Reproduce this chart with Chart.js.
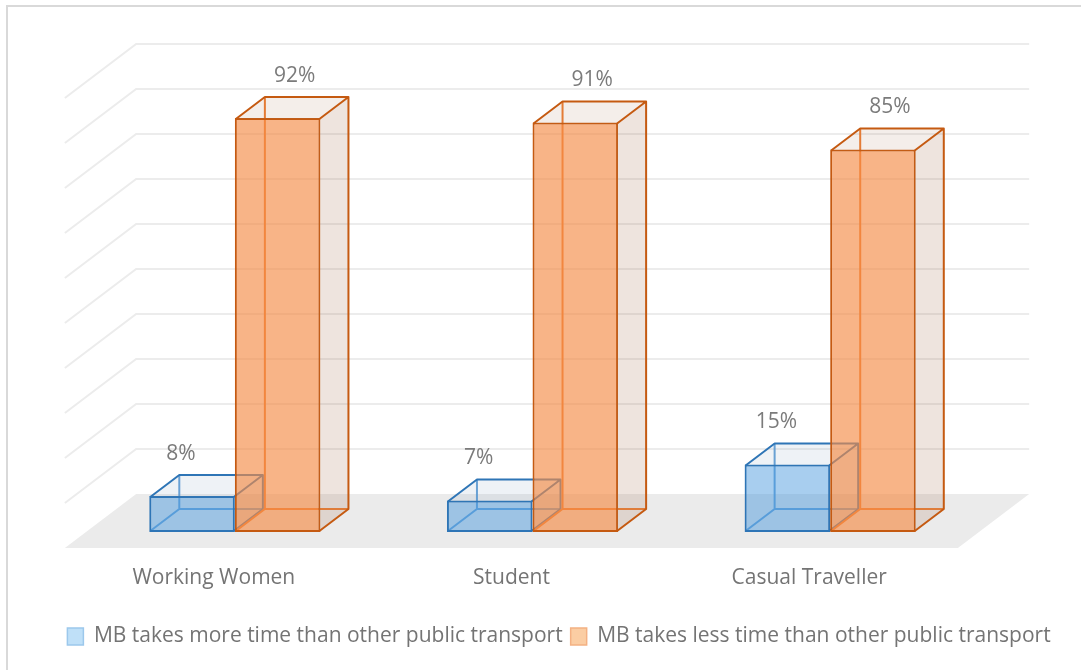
<!DOCTYPE html>
<html>
<head>
<meta charset="utf-8">
<title>MB travel time compared with other public transport</title>
<script src="https://cdn.jsdelivr.net/npm/chart.js@4.4.1/dist/chart.umd.min.js"></script>
<style>
  html, body { margin: 0; padding: 0; background: #fff; overflow: hidden; }
  #wrap { position: relative; width: 1081px; height: 670px; }
  #frame { position: absolute; left: 6px; top: 5px; width: 1200px; height: 800px; border: 2px solid #d9d9d9; }
  #chart { position: absolute; left: 0; top: 0; }
</style>
</head>
<body>
<div id="wrap">
  <div id="frame"></div>
  <canvas id="chart" width="1081" height="670"></canvas>
</div>
<script>
'use strict';

// Survey answers, in percent
const categories = ['Working Women', 'Student', 'Casual Traveller'];
const seriesNames = [
  'MB takes more time than other public transport',
  'MB takes less time than other public transport'
];
const moreTime = [8, 7, 15];
const lessTime = [92, 91, 85];
const valueRange = [0, 100];
const valueStep = 10;

// Look of each series: front face, edges, hidden edges, top and side faces
const look = [
  { face: 'rgba(70,150,220,0.47)', edge: '#2e75b6', hidden: 'rgba(91,155,213,0.9)',
    top: 'rgba(85,125,165,0.1)', side: 'rgba(85,125,165,0.14)',
    legendFill: '#bfe0f8', legendEdge: '#9cc8ec', labelDx: -11 },
  { face: 'rgba(244,140,70,0.65)', edge: '#c55a11', hidden: '#ed7d31',
    top: 'rgba(170,120,90,0.13)', side: 'rgba(170,120,90,0.2)',
    legendFill: '#fbcda3', legendEdge: '#f4b183', labelDx: 17 }
];

// Oblique projection: going k px deeper moves up k and right k*SLANT
const SLANT = 1.32;
const shift = k => ({ x: k * SLANT, y: -k });
const barDepth = shift(22);
const wallDepth = shift(38);
const floorFront = shift(-16);

Chart.defaults.font.family = '"Open Sans", sans-serif';

function corners(bar) {
  const { x, y, base, width } = bar.getProps(['x', 'y', 'base', 'width'], true);
  // centre of the 2px border drawn inside the bar rectangle
  return { l: x - width / 2 + 1, r: x + width / 2 - 1, t: y + 1, b: base - 1 };
}

function drawHidden(ctx, bar, st) {
  const { l, r, t, b } = corners(bar);
  const d = barDepth;
  ctx.save();
  ctx.strokeStyle = st.hidden;
  ctx.lineWidth = 2;
  ctx.beginPath();
  ctx.moveTo(l, b);
  ctx.lineTo(l + d.x, b + d.y);
  ctx.lineTo(r + d.x, b + d.y);
  ctx.moveTo(l + d.x, b + d.y);
  ctx.lineTo(l + d.x, t + d.y);
  ctx.stroke();
  ctx.restore();
}

function drawVisible(ctx, bar, st) {
  const { l, r, t, b } = corners(bar);
  const d = barDepth;
  ctx.save();
  // top face
  ctx.fillStyle = st.top;
  ctx.beginPath();
  ctx.moveTo(l, t);
  ctx.lineTo(l + d.x, t + d.y);
  ctx.lineTo(r + d.x, t + d.y);
  ctx.lineTo(r, t);
  ctx.closePath();
  ctx.fill();
  // right face
  ctx.fillStyle = st.side;
  ctx.beginPath();
  ctx.moveTo(r, t);
  ctx.lineTo(r + d.x, t + d.y);
  ctx.lineTo(r + d.x, b + d.y);
  ctx.lineTo(r, b);
  ctx.closePath();
  ctx.fill();
  // outline
  ctx.strokeStyle = st.edge;
  ctx.lineWidth = 2;
  ctx.lineJoin = 'round';
  ctx.beginPath();
  ctx.moveTo(l, t);
  ctx.lineTo(l + d.x, t + d.y);
  ctx.lineTo(r + d.x, t + d.y);
  ctx.lineTo(r + d.x, b + d.y);
  ctx.lineTo(r, b);
  ctx.moveTo(r, t);
  ctx.lineTo(r + d.x, t + d.y);
  ctx.stroke();
  ctx.restore();
}

const box3d = {
  id: 'box3d',
  beforeDatasetsDraw(chart) {
    const { ctx, chartArea: a, scales: { y } } = chart;
    ctx.save();
    // floor
    ctx.fillStyle = '#ebebeb';
    ctx.beginPath();
    ctx.moveTo(a.left + floorFront.x, a.bottom + floorFront.y);
    ctx.lineTo(a.right + floorFront.x, a.bottom + floorFront.y);
    ctx.lineTo(a.right + wallDepth.x, a.bottom + wallDepth.y);
    ctx.lineTo(a.left + wallDepth.x, a.bottom + wallDepth.y);
    ctx.closePath();
    ctx.fill();
    // gridlines on the side and back walls
    ctx.strokeStyle = '#ececec';
    ctx.lineWidth = 2;
    y.ticks.forEach(tick => {
      if (tick.value === valueRange[0]) return;
      const py = y.getPixelForValue(tick.value);
      ctx.beginPath();
      ctx.moveTo(a.left + floorFront.x, py + floorFront.y);
      ctx.lineTo(a.left + wallDepth.x, py + wallDepth.y);
      ctx.lineTo(a.right + wallDepth.x, py + wallDepth.y);
      ctx.stroke();
    });
    ctx.restore();
  },
  // bars are drawn below, box by box, so that overlaps come out right
  beforeDatasetDraw() { return false; },
  afterDatasetsDraw(chart) {
    const { ctx } = chart;
    const metas = chart.data.datasets.map((_, i) => chart.getDatasetMeta(i));
    categories.forEach((_, i) => {
      metas.forEach((meta, d) => {
        const bar = meta.data[i];
        drawHidden(ctx, bar, look[d]);
        bar.draw(ctx, chart.chartArea);
        drawVisible(ctx, bar, look[d]);
      });
    });
    // value labels
    ctx.save();
    ctx.font = '21px "Open Sans"';
    ctx.fillStyle = '#7b7b7b';
    ctx.textAlign = 'center';
    ctx.textBaseline = 'middle';
    metas.forEach((meta, d) => {
      meta.data.forEach((bar, i) => {
        const v = chart.data.datasets[d].data[i];
        ctx.fillText(v + '%', bar.x + look[d].labelDx, bar.y - 42);
      });
    });
    ctx.restore();
  }
};

new Chart(document.getElementById('chart'), {
  type: 'bar',
  data: {
    labels: categories,
    datasets: [
      { label: seriesNames[0], data: moreTime, backgroundColor: look[0].face, borderColor: look[0].edge },
      { label: seriesNames[1], data: lessTime, backgroundColor: look[1].face, borderColor: look[1].edge }
    ]
  },
  options: {
    responsive: false,
    animation: false,
    layout: { padding: { left: 37, right: 0, top: 82, bottom: 13 } },
    datasets: {
      bar: { categoryPercentage: 0.575, barPercentage: 1, borderWidth: 2, borderSkipped: false, inflateAmount: 0 }
    },
    scales: {
      x: {
        grid: { display: false, drawTicks: false },
        border: { display: false },
        ticks: { color: '#747474', font: { size: 21 }, padding: 33, labelOffset: -21, maxRotation: 0, autoSkip: false },
        afterFit: s => { s.height = 86; }
      },
      y: {
        min: valueRange[0], max: valueRange[1],
        ticks: { display: false, stepSize: valueStep },
        grid: { display: false },
        border: { display: false },
        afterFit: s => { s.width = 49; }
      },
      yRight: {
        type: 'linear', position: 'right',
        ticks: { display: false },
        grid: { display: false },
        border: { display: false },
        afterFit: s => { s.width = 102; }
      }
    },
    plugins: {
      tooltip: { enabled: false },
      legend: {
        position: 'bottom',
        labels: {
          color: '#747474',
          font: { size: 21 },
          boxWidth: 16,
          boxHeight: 17,
          padding: 8,
          generateLabels(c) {
            const items = Chart.defaults.plugins.legend.labels.generateLabels(c);
            items.forEach((it, i) => {
              it.fillStyle = look[i].legendFill;
              it.strokeStyle = look[i].legendEdge;
              it.lineWidth = 1.5;
            });
            return items;
          }
        }
      }
    }
  },
  plugins: [box3d]
});
</script>
</body>
</html>
